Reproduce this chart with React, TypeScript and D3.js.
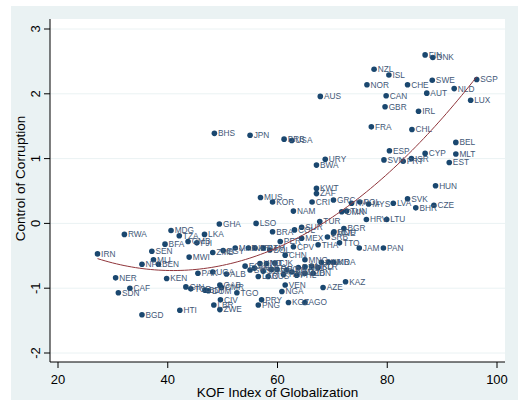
import * as d3 from "d3";
import { useEffect, useRef } from "react";

// country codes, KOF globalization index, control of corruption
const countries = [
  "FIN", "DNK", "NZL", "ISL", "NOR", "CHE", "SWE", "SGP", "NLD", "AUT",
  "CAN", "AUS", "LUX", "GBR", "IRL", "FRA", "CHL", "BEL", "ESP", "CYP",
  "MLT", "SVN", "PRT", "ISR", "EST", "URY", "BWA", "HUN", "BHS", "JPN",
  "BRB", "USA", "KWT", "ZAF", "MUS", "KOR", "CRI", "GRC", "ITA", "POL",
  "MYS", "LVA", "SVK", "BHR", "CZE", "NAM", "OMN", "TUN", "HRV", "LTU",
  "LSO", "TUR", "GHA", "BRA", "COL", "SUR", "BGR", "ROU", "MEX", "PER",
  "SRB", "THA", "TTO", "JAM", "PAN", "MNG", "SLV", "UKR", "MDA", "IDN",
  "VEN", "NGA", "AZE", "KAZ", "KGZ", "AGO", "PRY", "PNG", "RWA", "IRN",
  "MDG", "TZA", "GMB", "FJI", "LKA", "BFA", "SEN", "NPL", "MLI", "BEN",
  "MWI", "ZMB", "NER", "KEN", "SDN", "CAF", "BGD", "HTI", "GIN", "TCD",
  "PAK", "UGA", "ALB", "BDI", "DOM", "GAB", "CMR", "TGO", "CIV", "LBR",
  "ZWE", "MAR", "EGY", "IND", "ARM", "GTM", "BOL", "CHN", "ECU", "SYR",
  "VNM", "HND", "NIC", "ARG", "GEO", "LBN", "KHM", "DZA", "BIH", "MKD",
  "BLR", "RUS", "LAO", "PHL", "UZB", "CPV", "MNE", "SWZ", "YEM", "TJK",
];

const kof = [
  86.9, 88.3, 77.6, 80.3, 76.3, 83.7, 88.2, 96.3, 92.2, 87.2,
  79.8, 67.8, 95.2, 79.6, 85.7, 77.1, 84.5, 92.5, 80.4, 86.9,
  92.5, 79.4, 82.9, 84.4, 91.3, 68.7, 67.1, 88.8, 48.5, 55.0,
  61.2, 62.6, 67.1, 67.1, 56.9, 59.1, 66.3, 70.2, 73.5, 75.0,
  76.6, 81.1, 83.7, 85.2, 88.5, 62.9, 71.7, 72.6, 76.2, 79.9,
  56.1, 67.7, 49.4, 59.1, 63.1, 64.4, 72.1, 70.3, 64.4, 60.5,
  69.1, 67.4, 71.3, 74.9, 79.3, 65.0, 68.0, 69.3, 70.2, 66.5,
  61.4, 60.8, 68.3, 72.4, 62.0, 65.0, 57.1, 56.5, 32.1, 27.2,
  40.6, 42.1, 43.7, 45.3, 46.7, 39.5, 37.1, 35.3, 37.4, 38.3,
  43.9, 48.2, 30.5, 39.8, 31.0, 33.1, 35.3, 42.2, 43.3, 44.2,
  45.5, 48.2, 50.7, 46.8, 47.4, 49.5, 49.8, 52.6, 49.6, 48.4,
  49.5, 52.3, 50.1, 54.7, 55.9, 57.4, 58.6, 61.4, 54.1, 55.0,
  55.8, 56.8, 58.0, 58.9, 59.9, 61.7, 62.6, 63.8, 65.0, 66.2,
  67.4, 58.3, 56.5, 63.5, 65.0, 62.9, 70.2, 57.4, 61.1, 59.5,
];

const corruption = [
  2.60, 2.56, 2.38, 2.29, 2.14, 2.14, 2.21, 2.22, 2.08, 2.01,
  1.97, 1.96, 1.90, 1.80, 1.73, 1.49, 1.45, 1.25, 1.12, 1.08,
  1.07, 0.98, 0.96, 1.00, 0.94, 0.99, 0.90, 0.58, 1.39, 1.36,
  1.30, 1.28, 0.54, 0.46, 0.40, 0.33, 0.33, 0.36, 0.31, 0.33,
  0.30, 0.31, 0.38, 0.24, 0.28, 0.19, 0.18, 0.19, 0.06, 0.06,
  0.00, 0.03, -0.01, -0.13, -0.10, -0.06, -0.08, -0.13, -0.23, -0.28,
  -0.21, -0.33, -0.30, -0.38, -0.38, -0.56, -0.60, -0.60, -0.60, -0.77,
  -0.95, -1.05, -0.99, -0.90, -1.22, -1.22, -1.18, -1.26, -0.17, -0.47,
  -0.11, -0.19, -0.28, -0.30, -0.17, -0.32, -0.43, -0.63, -0.56, -0.63,
  -0.52, -0.45, -0.84, -0.85, -1.07, -1.00, -1.41, -1.34, -0.98, -1.01,
  -0.77, -0.75, -0.78, -1.03, -1.04, -0.95, -0.99, -1.07, -1.18, -1.26,
  -1.33, -0.38, -0.42, -0.38, -0.38, -0.38, -0.41, -0.49, -0.66, -0.72,
  -0.69, -0.62, -0.62, -0.71, -0.71, -0.72, -0.75, -0.68, -0.67, -0.66,
  -0.68, -0.82, -0.82, -0.80, -0.77, -0.36, -0.15, -0.74, -0.79, -0.61,
];

const xTicks = [20, 40, 60, 80, 100];
const yTicks = [-2, -1, 0, 1, 2, 3];

// least squares quadratic fit (like stata qfit)
function qfit(xs: number[], ys: number[]) {
  const m = d3.mean(xs)!;
  const s = [0, 0, 0, 0, 0];
  const t = [0, 0, 0];
  xs.forEach((x, i) => {
    const u = x - m;
    for (let k = 0; k < 5; k++) s[k] += Math.pow(u, k);
    for (let k = 0; k < 3; k++) t[k] += ys[i] * Math.pow(u, k);
  });
  const A = [
    [s[0], s[1], s[2], t[0]],
    [s[1], s[2], s[3], t[1]],
    [s[2], s[3], s[4], t[2]],
  ];
  for (let i = 0; i < 3; i++) {
    for (let j = i + 1; j < 3; j++) {
      const f = A[j][i] / A[i][i];
      for (let k = i; k < 4; k++) A[j][k] -= f * A[i][k];
    }
  }
  const c = [0, 0, 0];
  for (let i = 2; i >= 0; i--) {
    let v = A[i][3];
    for (let k = i + 1; k < 3; k++) v -= A[i][k] * c[k];
    c[i] = v / A[i][i];
  }
  return (x: number) => c[0] + c[1] * (x - m) + c[2] * (x - m) * (x - m);
}

function App() {
  const ref = useRef<SVGSVGElement>(null);

  useEffect(() => {
    const width = 518;
    const height = 400;
    const plotL = 50, plotR = 505, plotT = 19, plotB = 362;
    const font = "'Liberation Sans', Arial, sans-serif";

    const x = d3.scaleLinear().domain([20, 100]).range([58, 497]);
    const y = d3.scaleLinear().domain([-2, 3]).range([353, 29]);

    const svg = d3.select(ref.current!);
    svg.selectAll("*").remove();
    svg.attr("width", width).attr("height", height);

    svg.append("rect").attr("width", width).attr("height", height).attr("fill", "#fff");
    svg.append("rect")
      .attr("x", 11).attr("y", 6)
      .attr("width", width - 11).attr("height", height - 6)
      .attr("fill", "#eaf2f3");
    svg.append("rect")
      .attr("x", plotL).attr("y", plotT)
      .attr("width", plotR - plotL).attr("height", plotB - plotT)
      .attr("fill", "#fff");

    // gridlines
    svg.append("g")
      .selectAll("line")
      .data(yTicks)
      .join("line")
      .attr("x1", plotL).attr("x2", plotR)
      .attr("y1", d => y(d)).attr("y2", d => y(d))
      .attr("stroke", "#eaf2f3")
      .attr("stroke-width", 1);

    // points
    const pts = countries.map((c, i) => ({ c, x: kof[i], y: corruption[i] }));
    svg.append("g")
      .selectAll("circle")
      .data(pts)
      .join("circle")
      .attr("cx", d => x(d.x))
      .attr("cy", d => y(d.y))
      .attr("r", 2.8)
      .attr("fill", "#1a476f");

    svg.append("g")
      .attr("font-family", font)
      .attr("font-size", 8.3)
      .attr("fill", "#3f5877")
      .selectAll("text")
      .data(pts)
      .join("text")
      .attr("x", d => x(d.x) + 3.6)
      .attr("y", d => y(d.y))
      .attr("dy", "0.35em")
      .text(d => d.c);

    // fitted curve
    const f = qfit(kof, corruption);
    const [x0, x1] = d3.extent(kof) as [number, number];
    const xs = d3.range(0, 101).map(i => x0 + (x1 - x0) * i / 100);
    svg.append("path")
      .attr("d", d3.line<number>().x(d => x(d)).y(d => y(f(d)))(xs)!)
      .attr("fill", "none")
      .attr("stroke", "#90353b")
      .attr("stroke-width", 1);

    // axes
    svg.append("line")
      .attr("x1", plotL).attr("x2", plotL)
      .attr("y1", plotT).attr("y2", plotB)
      .attr("stroke", "#000");
    svg.append("line")
      .attr("x1", plotL).attr("x2", plotR)
      .attr("y1", plotB).attr("y2", plotB)
      .attr("stroke", "#000");

    const yt = svg.append("g").attr("font-family", font).attr("font-size", 13);
    yt.selectAll("line")
      .data(yTicks)
      .join("line")
      .attr("x1", plotL - 6).attr("x2", plotL)
      .attr("y1", d => y(d)).attr("y2", d => y(d))
      .attr("stroke", "#000");
    yt.selectAll("text")
      .data(yTicks)
      .join("text")
      .attr("transform", d => `translate(40,${y(d)}) rotate(-90)`)
      .attr("text-anchor", "middle")
      .text(d => d);

    const xt = svg.append("g").attr("font-family", font).attr("font-size", 13);
    xt.selectAll("line")
      .data(xTicks)
      .join("line")
      .attr("x1", d => x(d)).attr("x2", d => x(d))
      .attr("y1", plotB).attr("y2", plotB + 6)
      .attr("stroke", "#000");
    xt.selectAll("text")
      .data(xTicks)
      .join("text")
      .attr("x", d => x(d))
      .attr("y", 384)
      .attr("text-anchor", "middle")
      .text(d => d);

    svg.append("text")
      .attr("x", (plotL + plotR) / 2)
      .attr("y", 397)
      .attr("text-anchor", "middle")
      .attr("font-family", font)
      .attr("font-size", 13.5)
      .text("KOF Index of Globalization");

    svg.append("text")
      .attr("transform", `translate(25,${(plotT + plotB) / 2 - 12}) rotate(-90)`)
      .attr("text-anchor", "middle")
      .attr("font-family", font)
      .attr("font-size", 13.5)
      .text("Control of Corruption");
  }, []);

  return (
    <div style={{ position: "absolute", left: 0, top: 0 }}>
      <svg ref={ref}></svg>
    </div>
  );
}

export default App;
